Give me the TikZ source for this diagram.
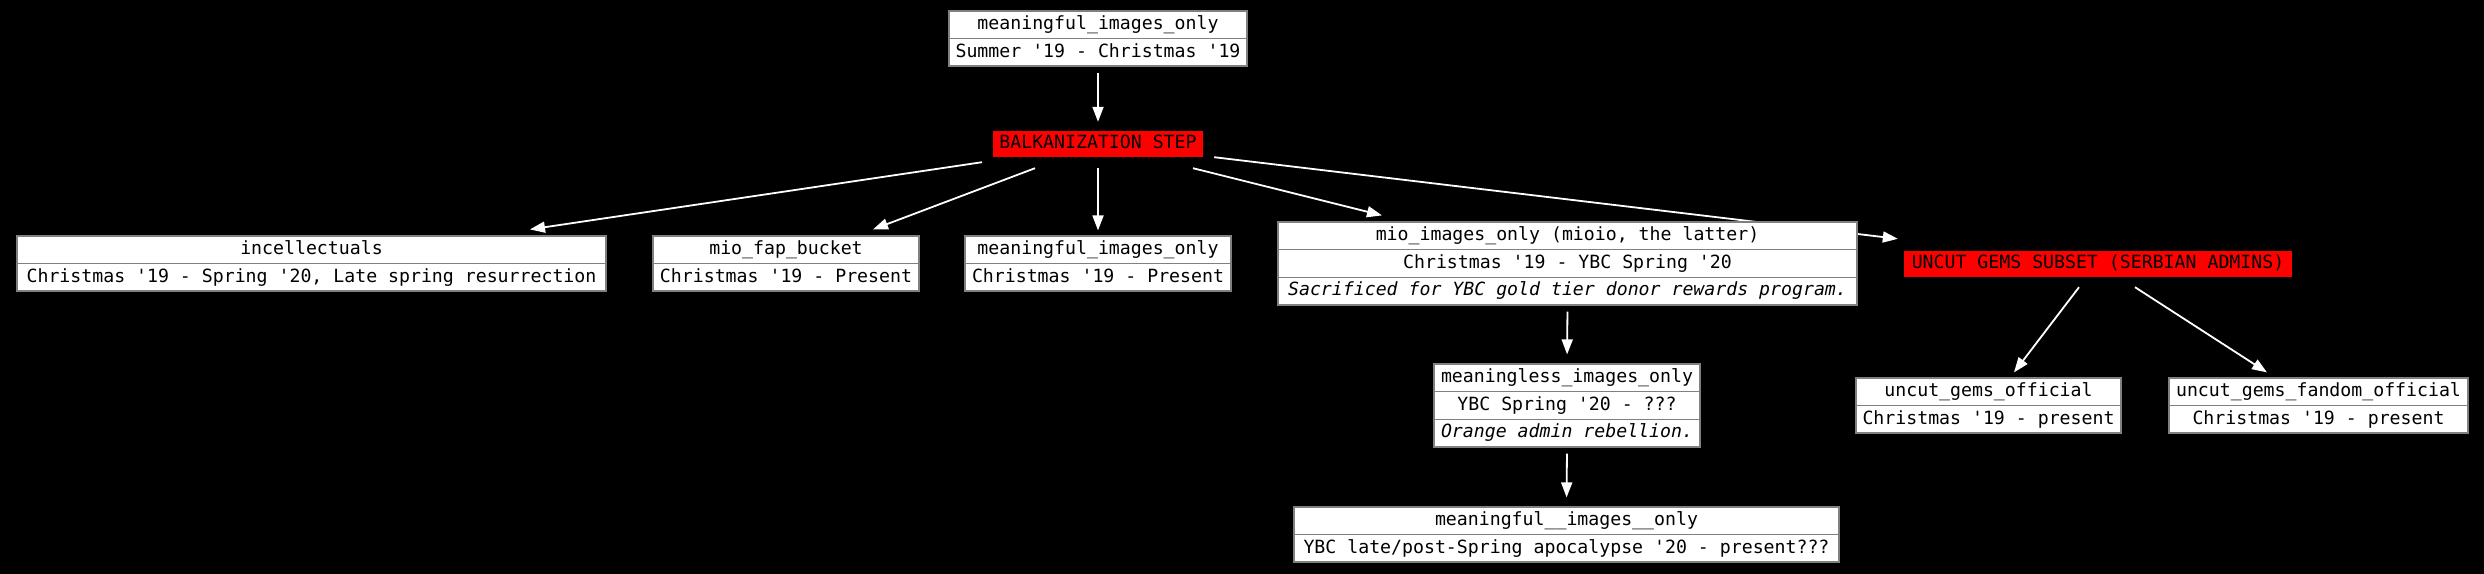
\documentclass[tikz,border=0pt]{standalone}
\usepackage{fontspec}
\setmonofont{DejaVu Sans Mono}
\usetikzlibrary{arrows.meta}
\pgfdeclarelayer{bgl}
\pgfdeclarelayer{edgel}
\pgfsetlayers{bgl,edgel,main}
\tikzset{
  rowbox/.style={draw=gray, line width=1.2pt, fill=white, text=black,
    minimum height=27.5pt, inner sep=0pt, text height=13.5pt, text depth=4pt,
    font=\ttfamily\fontsize{18.2}{20}\selectfont},
  rowbox3/.style={rowbox, minimum height=27.67pt},
  redbox/.style={fill=red, text=black, draw=none, minimum height=26pt,
    inner sep=0pt, text height=13.5pt, text depth=4pt,
    font=\ttfamily\fontsize{18.2}{20}\selectfont},
  edge/.style={draw=white, line width=1.8pt, -{Triangle[length=15pt,width=11pt]}}
}
\begin{document}
\begin{tikzpicture}[x=1pt,y=-1pt]
\useasboundingbox (0,0) rectangle (2484,573);
\begin{pgfonlayer}{bgl}
\fill[black] (-20,-20) rectangle (2504,593);
\end{pgfonlayer}

% top
\node[rowbox, minimum width=298pt] (top1) at (1098,24.75) {meaningful\_images\_only};
\node[rowbox, minimum width=298pt] (top2) at (1098,52.25) {Summer '19 - Christmas '19};

\node[redbox, minimum width=210pt] (balk) at (1098,144) {BALKANIZATION STEP};

% row 2
\node[rowbox, minimum width=589pt] (incel1) at (311.5,249.75) {incellectuals};
\node[rowbox, minimum width=589pt] (incel2) at (311.5,277.25) {Christmas '19 - Spring '20, Late spring resurrection};

\node[rowbox, minimum width=266pt] (fap1) at (786,249.75) {mio\_fap\_bucket};
\node[rowbox, minimum width=266pt] (fap2) at (786,277.25) {Christmas '19 - Present};

\node[rowbox, minimum width=266pt] (mid1) at (1098,249.75) {meaningful\_images\_only};
\node[rowbox, minimum width=266pt] (mid2) at (1098,277.25) {Christmas '19 - Present};

\node[rowbox3, minimum width=579pt] (mio1) at (1567.5,235.83) {mio\_images\_only (mioio, the latter)};
\node[rowbox3, minimum width=579pt] (mio2) at (1567.5,263.5) {Christmas '19 - YBC Spring '20};
\node[rowbox3, minimum width=579pt] (mio3) at (1567.5,291.17) {\itshape Sacrificed for YBC gold tier donor rewards program.};

\node[redbox, minimum width=388pt] (uncut) at (2098,264) {UNCUT GEMS SUBSET (SERBIAN ADMINS)};

% row 3
\node[rowbox3, minimum width=266pt] (ml1) at (1567,377.83) {meaningless\_images\_only};
\node[rowbox3, minimum width=266pt] (ml2) at (1567,405.5) {YBC Spring '20 - ???};
\node[rowbox3, minimum width=266pt] (ml3) at (1567,433.17) {\itshape Orange admin rebellion.};

\node[rowbox, minimum width=265pt] (off1) at (1988.5,391.75) {uncut\_gems\_official};
\node[rowbox, minimum width=265pt] (off2) at (1988.5,419.25) {Christmas '19 - present};

\node[rowbox, minimum width=299pt] (fan1) at (2318.5,391.75) {uncut\_gems\_fandom\_official};
\node[rowbox, minimum width=299pt] (fan2) at (2318.5,419.25) {Christmas '19 - present};

% bottom
\node[rowbox, minimum width=545pt] (bot1) at (1566.5,520.75) {meaningful\_\_images\_\_only};
\node[rowbox, minimum width=545pt] (bot2) at (1566.5,548.25) {YBC late/post-Spring apocalypse '20 - present???};

\begin{pgfonlayer}{edgel}
\draw[edge, shorten <=6pt, shorten >=9pt] (top2.south) -- (balk.north);
\draw[edge] ([xshift=-116pt,yshift=-5pt]balk.south) -- ([xshift=218.5pt,yshift=6pt]incel1.north);
\draw[edge] ([xshift=-63pt,yshift=-11pt]balk.south) -- ([xshift=87pt,yshift=6pt]fap1.north);
\draw[edge] ([yshift=-11pt]balk.south) -- ([yshift=5pt]mid1.north);
\draw[edge] ([xshift=95pt,yshift=-11pt]balk.south) -- ([xshift=-185.5pt,yshift=6pt]mio1.north);
\draw[edge] ([xshift=11pt]balk.south east) -- ([xshift=-6pt,yshift=12pt]uncut.north west);
\draw[edge, shorten <=6pt, shorten >=9pt] (mio3.south) -- (ml1.north);
\draw[edge, shorten <=6pt, shorten >=9pt] (ml3.south) -- (bot1.north);
\draw[edge] ([xshift=-19pt,yshift=-10pt]uncut.south) -- ([xshift=25.5pt,yshift=5pt]off1.north);
\draw[edge] ([xshift=37pt,yshift=-10pt]uncut.south) -- ([xshift=-51.5pt,yshift=5pt]fan1.north);
\end{pgfonlayer}
\end{tikzpicture}
\end{document}
